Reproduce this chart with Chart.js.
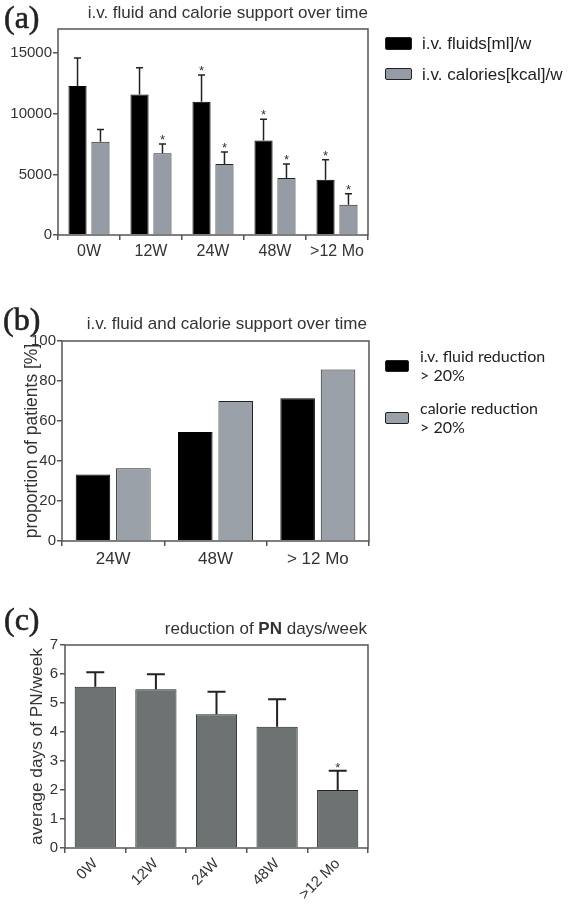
<!DOCTYPE html>
<html>
<head>
<meta charset="utf-8">
<script src="https://cdn.jsdelivr.net/npm/chart.js@4.4.1/dist/chart.umd.min.js"></script>
<style>
  html, body { margin: 0; padding: 0; background: #fff; }
  #page { position: relative; width: 570px; height: 905px; overflow: hidden; font-family: "Liberation Sans", Arial, sans-serif; color: #333; }
  canvas { position: absolute; left: 0; }
  .letter { position: absolute; font-family: "Liberation Serif", "DejaVu Serif", serif; font-size: 32px; color: #222; line-height: 1; -webkit-text-stroke: 0.6px #222; }
  .title { position: absolute; font-size: 17px; color: #333; white-space: nowrap; text-align: right; line-height: 1; }
  .sw { position: absolute; border: 1px solid #222; border-radius: 2px; box-sizing: border-box; }
  .lg { position: absolute; font-size: 17px; color: #222; white-space: nowrap; line-height: 1; }
  .lgb { position: absolute; font-family: Lato, "Open Sans", sans-serif; font-size: 16px; color: #222; white-space: nowrap; line-height: 19px; }
</style>
</head>
<body>
<div id="page">
  <canvas id="chartA" width="570" height="270" style="top:0"></canvas>
  <canvas id="chartB" width="570" height="290" style="top:300px"></canvas>
  <canvas id="chartC" width="570" height="305" style="top:600px"></canvas>

  <div class="letter" style="left:4px;top:1px">(a)</div>
  <div class="title" style="right:202px;top:4px">i.v. fluid and calorie support over time</div>
  <div class="sw" style="left:385px;top:37px;width:27px;height:13px;background:#000"></div>
  <div class="lg" style="left:422px;top:35px">i.v. fluids[ml]/w</div>
  <div class="sw" style="left:385px;top:68px;width:27px;height:12px;background:#959ca5"></div>
  <div class="lg" style="left:422px;top:66px">i.v. calories[kcal]/w</div>

  <div class="letter" style="left:3px;top:303px">(b)</div>
  <div class="title" style="right:203px;top:315px">i.v. fluid and calorie support over time</div>
  <div class="sw" style="left:385px;top:360px;width:24px;height:12px;background:#000"></div>
  <div class="lgb" style="left:420px;top:346px">i.v. fluid reduction<br>&gt; 20%</div>
  <div class="sw" style="left:385px;top:412px;width:24px;height:12px;background:#9aa1a9"></div>
  <div class="lgb" style="left:420px;top:398px">calorie reduction<br>&gt; 20%</div>

  <div class="letter" style="left:4px;top:603px">(c)</div>
  <div class="title" style="right:203px;top:620px">reduction of <b>PN</b> days/week</div>
</div>

<script>
// ---- (a) i.v. fluid and calorie support over time ----
const catsA = ['0W', '12W', '24W', '48W', '>12 Mo'];
const fluidsA = [12300, 11600, 11000, 7800, 4550];
const fluidsErrA = [14600, 13800, 13200, 9550, 6200];   // top of error bar
const fluidsStarA = [0, 0, 1, 1, 1];
const caloriesA = [7700, 6750, 5850, 4700, 2500];
const caloriesErrA = [8700, 7500, 6850, 5850, 3400];
const caloriesStarA = [0, 1, 1, 1, 1];
const ticksA = [0, 5000, 10000, 15000];

// ---- (b) proportion of patients ----
const catsB = ['24W', '48W', '> 12 Mo'];
const fluidRedB = [33.3, 54.5, 71.4];
const calorieRedB = [36.4, 70.0, 85.7];
const ticksB = [0, 20, 40, 60, 80, 100];

// ---- (c) reduction of PN days/week ----
const catsC = ['0W', '12W', '24W', '48W', '>12 Mo'];
const pnDaysC = [5.56, 5.47, 4.61, 4.18, 2.0];
const pnErrC = [6.06, 5.99, 5.39, 5.13, 2.66];
const pnStarC = [0, 0, 0, 0, 1];
const ticksC = [0, 1, 2, 3, 4, 5, 6, 7];

const FRAME = '#555';
const TEXT = '#333';
const FONT = '"Liberation Sans", Arial';

// error bars + significance stars, read from dataset.errTop / dataset.stars
const errorBarPlugin = {
    id: 'errorBars',
    afterDatasetsDraw(chart, args, opts) {
        const ctx = chart.ctx;
        const y = chart.scales.y;
        chart.data.datasets.forEach((ds, i) => {
            if (!ds.errTop) return;
            const meta = chart.getDatasetMeta(i);
            meta.data.forEach((bar, j) => {
                const yTop = bar.y;
                const yErr = y.getPixelForValue(ds.errTop[j]);
                ctx.save();
                ctx.strokeStyle = '#222';
                ctx.lineWidth = opts.lineWidth || 1.5;
                ctx.beginPath();
                ctx.moveTo(bar.x, yTop);
                ctx.lineTo(bar.x, yErr);
                ctx.moveTo(bar.x - opts.cap / 2, yErr);
                ctx.lineTo(bar.x + opts.cap / 2, yErr);
                ctx.stroke();
                if (ds.stars && ds.stars[j]) {
                    ctx.fillStyle = '#333';
                    ctx.font = '13px ' + FONT;
                    ctx.textAlign = 'center';
                    ctx.textBaseline = 'alphabetic';
                    ctx.fillText('*', bar.x, yErr - opts.starGap);
                }
                ctx.restore();
            });
        });
    }
};

// box around the whole plot area
const framePlugin = {
    id: 'frame',
    afterDraw(chart) {
        const { left, right, top, bottom } = chart.chartArea;
        const ctx = chart.ctx;
        ctx.save();
        ctx.strokeStyle = FRAME;
        ctx.lineWidth = 1.5;
        ctx.strokeRect(left, top, right - left, bottom - top);
        ctx.restore();
    }
};

Chart.register(errorBarPlugin, framePlugin);

const axisGrid = { display: true, drawOnChartArea: false, drawTicks: true, tickLength: 5, color: FRAME, lineWidth: 1.5 };

const keepTicks = (list) => (scale) => {
    scale.ticks = list.map(v => ({ value: v }));
};
const plain = (v) => String(v);

// (a)
new Chart(document.getElementById('chartA'), {
    type: 'bar',
    data: {
        labels: catsA,
        datasets: [
            { label: 'i.v. fluids[ml]/w', data: fluidsA, errTop: fluidsErrA, stars: fluidsStarA,
              backgroundColor: '#000', borderColor: '#000', borderWidth: 1,
              categoryPercentage: 0.74, barPercentage: 0.79 },
            { label: 'i.v. calories[kcal]/w', data: caloriesA, errTop: caloriesErrA, stars: caloriesStarA,
              backgroundColor: '#959ca5', borderColor: '#222', borderWidth: 1,
              categoryPercentage: 0.74, barPercentage: 0.79 }
        ]
    },
    options: {
        responsive: false,
        animation: false,
        layout: { padding: { top: 29, left: 0, right: 202, bottom: 0 } },
        plugins: {
            legend: { display: false },
            tooltip: { enabled: false },
            errorBars: { cap: 7, starGap: 0, lineWidth: 1.5 }
        },
        scales: {
            x: {
                grid: axisGrid,
                border: { display: false },
                ticks: { color: TEXT, font: { size: 16, family: FONT }, padding: 2, maxRotation: 0 },
                afterFit: (s) => { s.height = 35; }
            },
            y: {
                min: 0, max: 17000,
                grid: axisGrid,
                border: { display: false },
                ticks: { color: TEXT, font: { size: 15, family: FONT }, padding: 1, callback: plain },
                afterBuildTicks: keepTicks(ticksA),
                afterFit: (s) => { s.width = 58; }
            }
        }
    }
});

// (b)
new Chart(document.getElementById('chartB'), {
    type: 'bar',
    data: {
        labels: catsB,
        datasets: [
            { label: 'i.v. fluid reduction > 20%', data: fluidRedB,
              backgroundColor: '#000', borderColor: '#000', borderWidth: 1,
              categoryPercentage: 0.79, barPercentage: 0.855 },
            { label: 'calorie reduction > 20%', data: calorieRedB,
              backgroundColor: '#9aa1a9', borderColor: '#222', borderWidth: 1,
              categoryPercentage: 0.79, barPercentage: 0.855 }
        ]
    },
    options: {
        responsive: false,
        animation: false,
        layout: { padding: { top: 41, left: 0, right: 201, bottom: 0 } },
        plugins: {
            legend: { display: false },
            tooltip: { enabled: false }
        },
        scales: {
            x: {
                grid: axisGrid,
                border: { display: false },
                ticks: { color: TEXT, font: { size: 17, family: FONT }, padding: 3, maxRotation: 0 },
                afterFit: (s) => { s.height = 49; }
            },
            y: {
                min: 0, max: 100,
                grid: axisGrid,
                border: { display: false },
                title: { display: true, text: 'proportion of patients [%]', color: TEXT,
                         font: { size: 17.5, family: FONT }, padding: { top: 22, bottom: 0 } },
                ticks: { color: TEXT, font: { size: 15, family: FONT }, padding: 1, callback: plain },
                afterBuildTicks: keepTicks(ticksB),
                afterFit: (s) => { s.width = 62; }
            }
        }
    }
});

// (c)
new Chart(document.getElementById('chartC'), {
    type: 'bar',
    data: {
        labels: catsC,
        datasets: [
            { label: 'average days of PN/week', data: pnDaysC, errTop: pnErrC, stars: pnStarC,
              backgroundColor: '#6d7273', borderColor: '#222', borderWidth: 1,
              categoryPercentage: 1, barPercentage: 0.68 }
        ]
    },
    options: {
        responsive: false,
        animation: false,
        layout: { padding: { top: 45, left: 0, right: 202, bottom: 0 } },
        plugins: {
            legend: { display: false },
            tooltip: { enabled: false },
            errorBars: { cap: 18, starGap: -1, lineWidth: 2 }
        },
        scales: {
            x: {
                grid: axisGrid,
                border: { display: false },
                ticks: { color: TEXT, font: { size: 15, family: FONT }, padding: 2, minRotation: 45, maxRotation: 45 },
                afterFit: (s) => { s.height = 57; }
            },
            y: {
                min: 0, max: 7,
                grid: axisGrid,
                border: { display: false },
                title: { display: true, text: 'average days of PN/week', color: TEXT,
                         font: { size: 17.3, family: FONT }, padding: { top: 27, bottom: 0 } },
                ticks: { color: TEXT, font: { size: 15, family: FONT }, padding: 2, callback: plain },
                afterBuildTicks: keepTicks(ticksC),
                afterFit: (s) => { s.width = 65; }
            }
        }
    }
});
</script>
</body>
</html>
